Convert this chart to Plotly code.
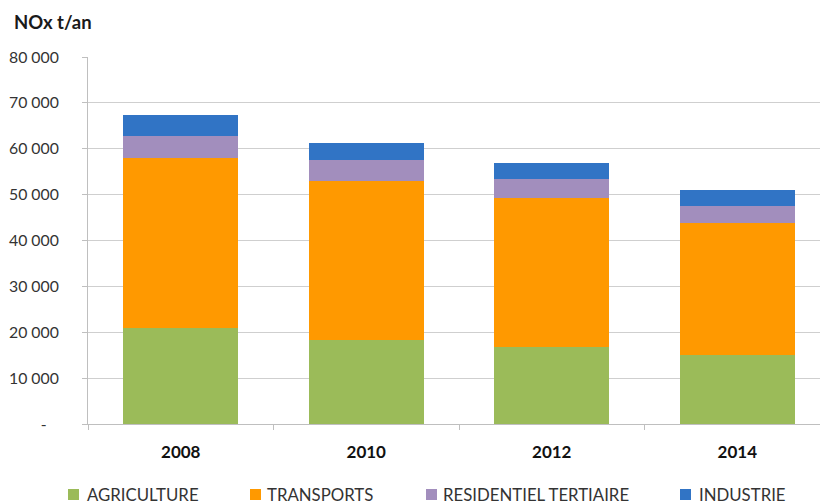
import plotly.graph_objects as go

# NOx emissions by sector (t/an)
years = ["2008", "2010", "2012", "2014"]
agriculture = [20900, 18300, 16800, 15000]
transports = [37050, 34700, 32500, 28750]
residentiel = [4930, 4500, 4200, 3800]
industrie = [4460, 3800, 3400, 3500]

series = [
    ("AGRICULTURE", agriculture, "#9BBB59"),
    ("TRANSPORTS", transports, "#FF9900"),
    ("RESIDENTIEL TERTIAIRE", residentiel, "#A28EBD"),
    ("INDUSTRIE", industrie, "#3174C5"),
]

y_ticks = list(range(0, 80001, 10000))
y_ticktext = ["-\u00a0\u00a0\u00a0"] + [f"{v // 1000} 000" for v in y_ticks[1:]]

W, H = 820, 504
ML, MR, MT, MB = 88, 0, 57, 80
PW, PH = W - ML - MR, H - MT - MB

FONT = "Lato"

fig = go.Figure()
for name, vals, color in series:
    fig.add_trace(go.Bar(
        x=years, y=vals, name=name, marker_color=color,
        marker_line_width=0, showlegend=False,
    ))


def px_x(px):
    return (px - ML) / PW


def px_y(py):
    return (H - MB - py) / PH


# Legend row drawn beneath the axis
legend_items = [
    ("AGRICULTURE", "#9BBB59", 68, 85),
    ("TRANSPORTS", "#FF9900", 250, 265),
    ("RESIDENTIEL TERTIAIRE", "#A28EBD", 426, 441),
    ("INDUSTRIE", "#3174C5", 680, 697),
]
shapes = []
annotations = []
LEG_Y = 494.5
for label, color, sq_x, tx_x in legend_items:
    shapes.append(dict(
        type="rect", xref="paper", yref="paper",
        x0=px_x(sq_x), x1=px_x(sq_x + 11),
        y0=px_y(LEG_Y + 5.5), y1=px_y(LEG_Y - 5.5),
        fillcolor=color, line_width=0,
    ))
    annotations.append(dict(
        text=label, xref="paper", yref="paper",
        x=px_x(tx_x), y=px_y(LEG_Y), xanchor="left", yanchor="middle",
        showarrow=False, font=dict(family=FONT, size=16.8, color="#333333"),
    ))

annotations.append(dict(
    text="<b>NOx t/an</b>", xref="paper", yref="paper",
    x=px_x(12), y=px_y(22), xanchor="left", yanchor="middle",
    showarrow=False, font=dict(family=FONT, size=18.5, color="#1A1A1A"),
))

fig.update_layout(
    width=W, height=H,
    margin=dict(l=ML, r=MR, t=MT, b=MB, pad=0),
    barmode="stack", bargap=0.38,
    paper_bgcolor="white", plot_bgcolor="white",
    shapes=shapes, annotations=annotations,
    xaxis=dict(
        type="category", range=[-0.5, 3.446],
        showgrid=False, showline=True, linecolor="#BFBFBF", linewidth=1,
        ticks="outside", tickson="boundaries", ticklen=5, tickcolor="#BFBFBF",
        ticklabelstandoff=13,
        tickfont=dict(family=FONT, size=17, color="#111111", weight="bold"),
    ),
    yaxis=dict(
        range=[0, 80000], tickvals=y_ticks, ticktext=y_ticktext,
        showgrid=True, gridcolor="#CFCFCF", gridwidth=1,
        showline=True, linecolor="#BFBFBF", linewidth=1,
        ticks="outside", ticklen=5, tickcolor="#BFBFBF",
        ticklabelstandoff=20, zeroline=False,
        tickfont=dict(family=FONT, size=15.8, color="#333333"),
    ),
)

fig.write_html("out.html")
